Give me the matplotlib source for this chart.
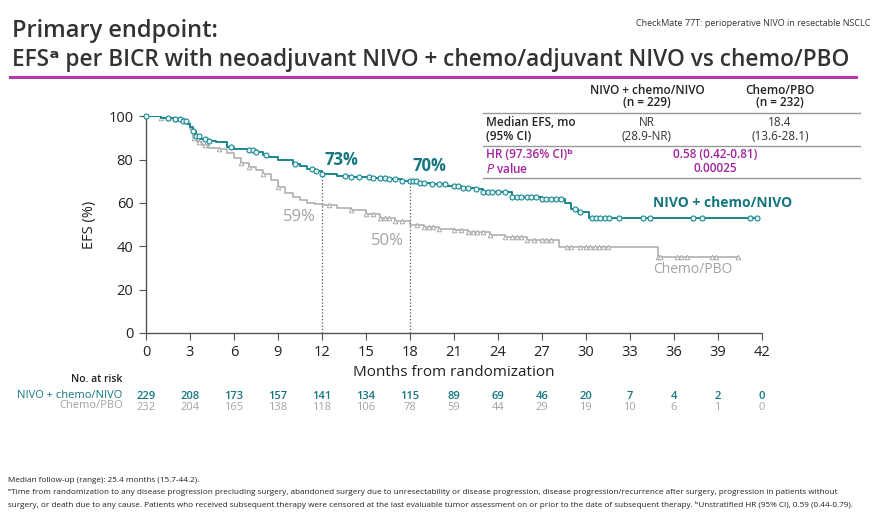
import numpy as np
import matplotlib
matplotlib.use('Agg')
import matplotlib.pyplot as plt

plt.rcParams['font.family'] = ['Open Sans', 'DejaVu Sans']

# Kaplan-Meier steps (months, EFS %)
nivo_t = [0, 1.0, 2.0, 2.5, 2.8, 3.0, 3.2, 3.4, 3.7, 4.2, 4.8, 5.5, 6.0, 7.0, 7.5, 8.0, 8.3,
          9.0, 10.0, 10.5, 11.0, 11.5, 12.0, 13.0, 14.0, 15.5, 16.5, 17.5, 18.0, 18.5, 19.5,
          20.5, 21.5, 22.5, 23.0, 24.0, 25.0, 27.0, 28.6, 29.0, 29.5, 30.2, 41.7]
nivo_s = [100, 99, 98.5, 98, 96.5, 95, 93, 91, 89.5, 88.5, 88, 86, 84.8, 84.3, 83.5, 82, 81,
          80, 78, 77, 75.5, 74.5, 73.5, 72.5, 72, 71.3, 70.8, 70.3, 70, 69.3, 68.8,
          68, 66.8, 66.3, 65.2, 64.8, 62.5, 62, 60, 57, 56, 53, 53]
nivo_cens = [0, 1.5, 2.0, 2.3, 2.5, 2.7, 3.2, 3.4, 3.6, 4.0, 4.3, 5.8, 7.0, 7.3, 7.5, 8.2,
             10.2, 11.3, 11.6, 12.0, 13.6, 14.0, 14.5, 15.2, 15.5, 16.0, 16.3, 16.6, 17.0,
             17.5, 18.0, 18.2, 18.4, 18.7, 19.0, 19.5, 20.0, 20.4, 21.0, 21.3, 21.6, 22.0,
             22.5, 23.0, 23.3, 23.6, 24.0, 24.5, 25.0, 25.3, 25.6, 26.0, 26.3, 26.6, 27.0,
             27.3, 27.6, 28.0, 28.3, 29.3, 29.6, 30.4, 30.7, 31.0, 31.3, 31.6, 32.3, 33.9,
             34.4, 37.3, 37.9, 41.2, 41.7]

chemo_t = [0, 1.0, 2.0, 2.7, 3.0, 3.2, 3.5, 3.8, 4.3, 5.0, 5.5, 6.0, 6.5, 7.0, 7.5, 8.0,
           8.5, 9.0, 9.5, 10.0, 10.5, 11.0, 11.5, 12.0, 13.0, 14.0, 15.0, 16.0, 17.0, 18.0,
           19.0, 20.0, 21.0, 22.0, 23.5, 24.5, 26.0, 28.2, 34.9, 40.4]
chemo_s = [100, 99, 98.5, 97, 94, 90, 88, 86.5, 85.5, 85, 83, 80.5, 78.5, 76.5, 75, 73.5,
           70.5, 67.5, 64.5, 62.5, 61.3, 60, 59.3, 59, 57.8, 56.5, 54.8, 53, 51.5, 50,
           48.8, 48, 47.5, 46.5, 45.2, 44.2, 43, 39.6, 35, 35]
chemo_cens = [1.0, 1.5, 2.0, 3.3, 3.6, 4.0, 5.0, 6.5, 7.0, 8.0, 9.0, 12.5, 14.0, 15.0, 15.5,
              16.0, 16.3, 16.6, 17.0, 17.5, 18.5, 19.0, 19.3, 19.6, 20.0, 21.0, 21.5, 22.0,
              22.3, 22.6, 23.0, 23.5, 24.5, 25.0, 25.3, 25.6, 26.0, 26.5, 27.0, 27.3, 27.6,
              28.7, 29.0, 29.6, 30.0, 30.3, 30.6, 30.9, 31.2, 31.5, 34.9, 35.1, 36.2, 36.5,
              36.9, 38.6, 38.9, 40.4]

months = [0, 3, 6, 9, 12, 15, 18, 21, 24, 27, 30, 33, 36, 39, 42]
risk_nivo = [229, 208, 173, 157, 141, 134, 115, 89, 69, 46, 20, 7, 4, 2, 0]
risk_chemo = [232, 204, 165, 138, 118, 106, 78, 59, 44, 29, 19, 10, 6, 1, 0]

TEAL = '#1a8791'
TEAL_TXT = '#137680'
GREY = '#a9a9a9'
GREY_TXT = '#a3a3a3'
MAG = '#a3239f'
DARK = '#333333'


def surv_at(times, surv, t):
    idx = np.searchsorted(times, t, side='right') - 1
    return np.asarray(surv)[idx]


def fy(py):
    return 1 - py / 521


fig = plt.figure(figsize=(8.82, 5.21), dpi=100)
ax = fig.add_axes([0.1655, 0.361, 0.698, 0.416])

ax.step(chemo_t, chemo_s, where='post', color=GREY, lw=1.1, zorder=2)
ax.plot(chemo_cens, surv_at(chemo_t, chemo_s, chemo_cens), ls='none', marker='^',
        ms=3.3, mfc='white', mec=GREY, mew=0.7, zorder=3, clip_on=False)
ax.step(nivo_t, nivo_s, where='post', color=TEAL, lw=1.4, zorder=4)
ax.plot(nivo_cens, surv_at(nivo_t, nivo_s, nivo_cens), ls='none', marker='o',
        ms=3.6, mfc='#e6f4f5', mec=TEAL, mew=0.8, zorder=5, clip_on=False)

# landmark lines
for m in (12, 18):
    ax.plot([m, m], [0, surv_at(nivo_t, nivo_s, m)], ls=':', color='#555555', lw=0.9, zorder=1)
ax.text(12.2, 77.5, '73%', color=TEAL_TXT, fontsize=12, fontweight='bold')
ax.text(18.2, 74.5, '70%', color=TEAL_TXT, fontsize=12, fontweight='bold')
ax.text(11.6, 51.5, '59%', color=GREY_TXT, fontsize=12, ha='right')
ax.text(17.6, 40.5, '50%', color=GREY_TXT, fontsize=12, ha='right')

ax.text(34.6, 58, 'NIVO + chemo/NIVO', color=TEAL_TXT, fontsize=10, fontweight='bold',
        clip_on=False)
ax.text(34.6, 27.5, 'Chemo/PBO', color=GREY_TXT, fontsize=10, clip_on=False)

ax.set_xlim(0, 42)
ax.set_ylim(0, 100)
ax.set_xticks(months)
ax.set_yticks([0, 20, 40, 60, 80, 100])
for s in ('top', 'right'):
    ax.spines[s].set_visible(False)
for s in ('left', 'bottom'):
    ax.spines[s].set_color('#555555')
    ax.spines[s].set_linewidth(1.0)
ax.tick_params(direction='out', length=5, color='#555555', labelsize=10.5,
               labelcolor='#222222', pad=4)
ax.set_xlabel('Months from randomization', fontsize=11, color='#222222', labelpad=3,
              fontweight='medium')
ax.set_ylabel('EFS (%)', fontsize=10.5, color='#222222', labelpad=8)

# number at risk
fig.text(0.139, fy(380), 'No. at risk', fontsize=7.5, color='#222222', ha='right',
         va='center', fontweight='semibold')
fig.text(0.139, fy(395), 'NIVO + chemo/NIVO', fontsize=8, color=TEAL_TXT, ha='right',
         va='center', fontweight='medium')
fig.text(0.139, fy(406), 'Chemo/PBO', fontsize=8, color=GREY_TXT, ha='right',
         va='center')
trans = ax.get_xaxis_transform()
for m, a, b in zip(months, risk_nivo, risk_chemo):
    ax.text(m, -0.295, str(a), transform=trans, ha='center', va='center', fontsize=8,
            color=TEAL_TXT, fontweight='semibold', clip_on=False)
    ax.text(m, -0.345, str(b), transform=trans, ha='center', va='center', fontsize=8,
            color=GREY_TXT, clip_on=False)

# title block
fig.text(0.014, fy(37), 'Primary endpoint:', fontsize=17, color=DARK, fontweight='semibold')
fig.text(0.014, fy(66),
         'EFS\u1d43 per BICR with neoadjuvant NIVO + chemo/adjuvant NIVO vs chemo/PBO',
         fontsize=16.3, color=DARK, fontweight='semibold')
fig.add_artist(plt.Line2D([0.011, 0.970], [fy(77), fy(77)], color='#b23aa9', lw=2.2))
fig.text(0.987, fy(26), 'CheckMate 77T: perioperative NIVO in resectable NSCLC',
         fontsize=6.5, color=DARK, ha='right')

# summary table
c1, c2, cm = 647 / 882, 780 / 882, 715 / 882
x0, x1 = 483 / 882, 860 / 882

fig.text(c1, fy(90), 'NIVO + chemo/NIVO', ha='center', va='center', fontsize=8.5,
         fontweight='semibold', color='#222222')
fig.text(c1, fy(103), '(n = 229)', ha='center', va='center', fontsize=8.5,
         fontweight='semibold', color='#222222')
fig.text(c2, fy(90), 'Chemo/PBO', ha='center', va='center', fontsize=8.5,
         fontweight='semibold', color='#222222')
fig.text(c2, fy(103), '(n = 232)', ha='center', va='center', fontsize=8.5,
         fontweight='semibold', color='#222222')
for py in (113, 146, 178):
    fig.add_artist(plt.Line2D([x0, x1], [fy(py), fy(py)], color='#999999', lw=1.0))
fig.text(x0 + 0.003, fy(123), 'Median EFS, mo', va='center', fontsize=8.5,
         fontweight='semibold', color='#222222')
fig.text(x0 + 0.003, fy(137), '(95% CI)', va='center', fontsize=8.5,
         fontweight='semibold', color='#222222')
fig.text(c1, fy(123), 'NR', ha='center', va='center', fontsize=8.5, color='#333333')
fig.text(c1, fy(137), '(28.9-NR)', ha='center', va='center', fontsize=8.5, color='#333333')
fig.text(c2, fy(123), '18.4', ha='center', va='center', fontsize=8.5, color='#333333')
fig.text(c2, fy(137), '(13.6-28.1)', ha='center', va='center', fontsize=8.5, color='#333333')
fig.text(x0 + 0.003, fy(155), 'HR (97.36% CI)\u1d47', va='center', fontsize=8.5,
         fontweight='semibold', color=MAG)
fig.text(x0 + 0.003, fy(169), r'$\it{P}$ value', va='center', fontsize=8.5,
         fontweight='semibold', color=MAG)
fig.text(cm, fy(155), '0.58 (0.42-0.81)', ha='center', va='center', fontsize=8.5,
         fontweight='semibold', color=MAG)
fig.text(cm, fy(169), '0.00025', ha='center', va='center', fontsize=8.5,
         fontweight='semibold', color=MAG)

# footnotes
fig.text(0.009, fy(481), 'Median follow-up (range): 25.4 months (15.7-44.2).',
         fontsize=5.9, color='#222222', va='center')
fig.text(0.009, fy(493),
         '\u1d43Time from randomization to any disease progression precluding surgery, '
         'abandoned surgery due to unresectability or disease progression, disease '
         'progression/recurrence after surgery, progression in patients without',
         fontsize=5.9, color='#222222', va='center')
fig.text(0.009, fy(505),
         'surgery, or death due to any cause. Patients who received subsequent therapy were '
         'censored at the last evaluable tumor assessment on or prior to the date of '
         'subsequent therapy. \u1d47Unstratified HR (95% CI), 0.59 (0.44-0.79).',
         fontsize=5.9, color='#222222', va='center')

fig.savefig('out.png', dpi=100)
